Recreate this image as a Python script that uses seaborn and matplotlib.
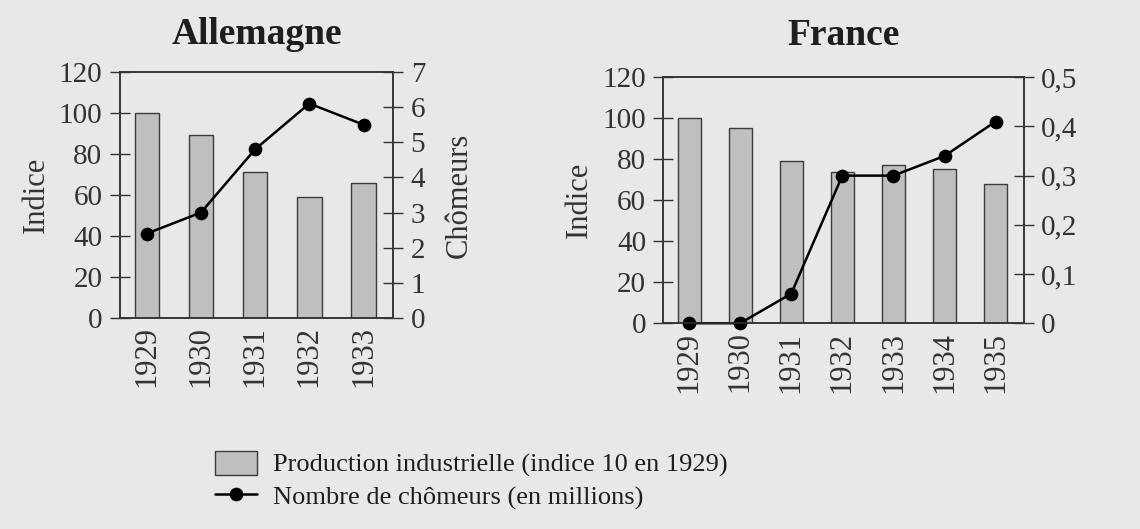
import matplotlib
matplotlib.use("Agg")
import matplotlib.pyplot as plt
import seaborn as sns

# Data
years_de = ["1929", "1930", "1931", "1932", "1933"]
prod_de = [100, 89, 71, 59, 66]
chom_de = [2.4, 3.0, 4.8, 6.1, 5.5]

years_fr = ["1929", "1930", "1931", "1932", "1933", "1934", "1935"]
prod_fr = [100, 95, 79, 74, 77, 75, 68]
chom_fr = [0.0, 0.0, 0.06, 0.3, 0.3, 0.34, 0.41]

left_ticks = [0, 20, 40, 60, 80, 100, 120]
right_ticks_de = [0, 1, 2, 3, 4, 5, 6, 7]
right_ticks_fr = [0, 0.1, 0.2, 0.3, 0.4, 0.5]
right_labels_fr = ["0", "0,1", "0,2", "0,3", "0,4", "0,5"]

bar_label = "Production industrielle (indice 10 en 1929)"
line_label = "Nombre de chômeurs (en millions)"

BG = "#e8e8e6"
INK = "#1e1e1e"
BAR = "#bfbfbd"

sns.set_style("white")
plt.rcParams["font.family"] = ["Liberation Serif", "DejaVu Serif"]
plt.rcParams["text.color"] = INK
plt.rcParams["axes.labelcolor"] = "#333333"
plt.rcParams["xtick.color"] = "#333333"
plt.rcParams["ytick.color"] = "#333333"

fig = plt.figure(figsize=(11.4, 5.29), dpi=100, facecolor=BG)


def panel(rect, years, prod, chom, rticks, rlabels, rmax, title, rlabel, xlim,
          title_pad):
    ax = fig.add_axes(rect)
    ax.set_facecolor("none")
    sns.barplot(x=years, y=prod, ax=ax, color=BAR, edgecolor="#3c3c3c",
                linewidth=1.0, width=0.45, saturation=1, label=bar_label)
    ax2 = ax.twinx()
    sns.pointplot(x=years, y=chom, ax=ax2, color="black", markers="o",
                  linestyles="-", errorbar=None, markersize=8.5, linewidth=1.8,
                  label=line_label)
    # markers at zero sit on the axis line, keep them whole
    for ln in ax2.lines:
        ln.set_clip_on(False)
    ax.set_xlim(*xlim)
    ax.set_ylim(0, 120)
    ax2.set_ylim(0, rmax)
    ax.set_yticks(left_ticks)
    ax2.set_yticks(rticks)
    ax2.set_yticklabels(rlabels)

    for a in (ax, ax2):
        for s in a.spines.values():
            s.set_visible(True)
            s.set_color("#333333")
            s.set_linewidth(1.1)
        a.tick_params(axis="y", direction="inout", length=15, width=1.0,
                      labelsize=21, pad=5)
    ax.tick_params(axis="x", length=0, labelsize=22, labelrotation=90, pad=6)
    ax.set_xlabel("")
    ax.set_ylabel("Indice", fontsize=22, labelpad=6)
    ax2.set_ylabel(rlabel, fontsize=22, labelpad=14)
    ax.set_title(title, fontsize=27, fontweight="bold", pad=title_pad, color=INK)
    for lg in (ax.get_legend(), ax2.get_legend()):
        if lg is not None:
            lg.remove()
    return ax, ax2


ax_de, ax2_de = panel([0.105, 0.399, 0.240, 0.465], years_de, prod_de, chom_de,
                      right_ticks_de, [str(t) for t in right_ticks_de], 7,
                      "Allemagne", "Chômeurs", (-0.5, 4.55), 20)
ax_fr, ax2_fr = panel([0.582, 0.389, 0.316, 0.465], years_fr, prod_fr, chom_fr,
                      right_ticks_fr, right_labels_fr, 0.5,
                      "France", "", (-0.5, 6.55), 23)

h1, l1 = ax_de.get_legend_handles_labels()
h2, l2 = ax2_de.get_legend_handles_labels()
fig.legend(h1[:1] + h2[:1], [bar_label, line_label], loc="upper left",
           bbox_to_anchor=(0.177, 0.172), frameon=False, fontsize=19,
           handlelength=1.6, handleheight=1.0, handletextpad=0.6,
           labelspacing=0.25, borderpad=0)

fig.savefig("out.png", dpi=100, facecolor=BG)
